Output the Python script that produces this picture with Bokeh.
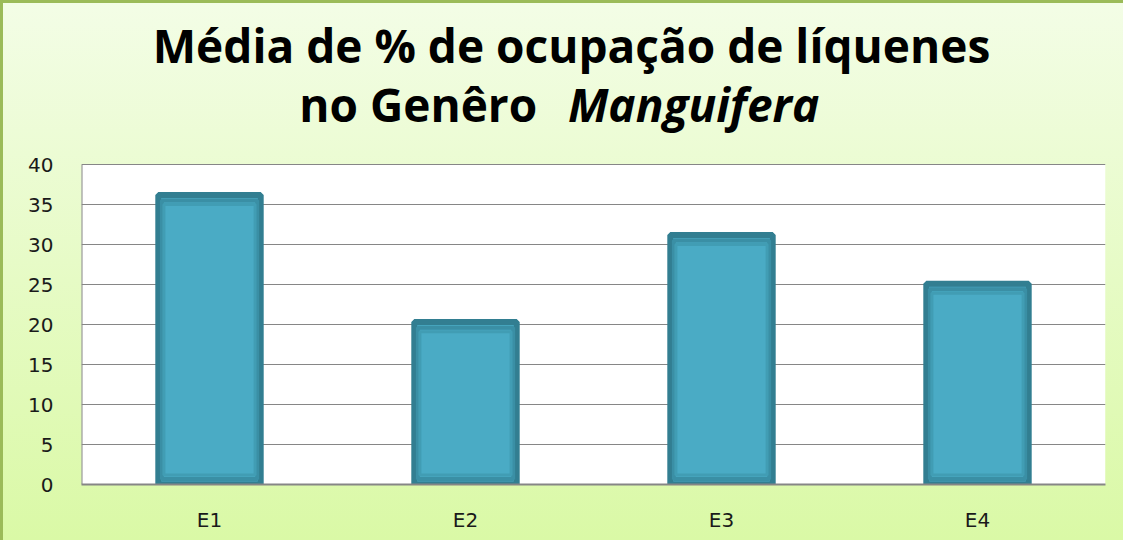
from bokeh.plotting import figure
from bokeh.models import Label, FixedTicker, BoxAnnotation
from bokeh.embed import file_html
from bokeh.resources import INLINE

categories = ["E1", "E2", "E3", "E4"]
values = [36.2, 20.3, 31.2, 25.1]
y_ticks = [0, 5, 10, 15, 20, 25, 30, 35, 40]
title_line1 = "Média de % de ocupação de líquenes"
title_line2a = "no Genêro"
title_line2b = "Manguifera"

# frame extends up to the top of the canvas; the white plot area is 0..40
p = figure(x_range=categories, y_range=(0, 60.125), width=1123, height=540,
           output_backend="svg", toolbar_location=None,
           min_border_left=78, min_border_right=21, min_border_top=0, min_border_bottom=59)

p.background_fill_alpha = 0
p.border_fill_alpha = 0
p.outline_line_color = None
p.styles = {"background": "linear-gradient(#f3fde6, #daf9a6)",
            "border-left": "3px solid #9bbb59",
            "border-top": "3px solid #9bbb59"}

p.add_layout(BoxAnnotation(bottom=y_ticks[0], top=y_ticks[-1], fill_color="white",
                           fill_alpha=1, line_color=None, level="image"))
p.segment(x0=[0], x1=[0], y0=[y_ticks[0]], y1=[y_ticks[-1]], line_color="#868686",
          line_width=2, level="underlay")

# bars with bevel-like rings
p.vbar(x=categories, top=values, width=0.40, fill_color="#4aabc5",
       line_color="#327e91", line_width=6)
inner1 = [v - 0.7 for v in values]
p.vbar(x=categories, top=inner1, bottom=0.7, width=0.372, fill_color=None,
       line_color="#3a8fa5", line_width=4)
inner2 = [v - 1.2 for v in values]
p.vbar(x=categories, top=inner2, bottom=1.2, width=0.356, fill_color=None,
       line_color="#419db4", line_width=3)

p.ygrid.ticker = FixedTicker(ticks=y_ticks)
p.ygrid.grid_line_color = "#868686"
p.ygrid.grid_line_width = 1
p.xgrid.grid_line_color = None

p.yaxis.ticker = FixedTicker(ticks=y_ticks)
p.yaxis.axis_line_color = None
p.yaxis.major_tick_line_color = None
p.yaxis.major_tick_out = 0
p.yaxis.minor_tick_line_color = None
p.yaxis.minor_tick_out = 0
p.yaxis.major_label_standoff = 28
p.yaxis.major_label_text_font = "DejaVu Sans"
p.yaxis.major_label_text_font_size = "20px"
p.yaxis.major_label_text_color = "#1a1a1a"

p.xaxis.axis_line_color = "#868686"
p.xaxis.axis_line_width = 2
p.xaxis.major_tick_line_color = None
p.xaxis.major_tick_out = 0
p.xaxis.major_label_standoff = 23
p.xaxis.major_label_text_font = "DejaVu Sans"
p.xaxis.major_label_text_font_size = "20px"
p.xaxis.major_label_text_color = "#1a1a1a"

font = "Open Sans"
p.add_layout(Label(x=1.914, y=54.9, text=title_line1,
                   text_font=font, text_font_size="46px", text_font_style="bold",
                   text_align="center", text_baseline="alphabetic", text_color="black"))
p.add_layout(Label(x=1.78, y=47.6, text=title_line2a,
                   text_font=font, text_font_size="46px", text_font_style="bold",
                   text_align="right", text_baseline="alphabetic", text_color="black"))
p.add_layout(Label(x=1.90, y=47.6, text=title_line2b,
                   text_font=font, text_font_size="46px", text_font_style="bold italic",
                   text_align="left", text_baseline="alphabetic", text_color="black"))

open("out.html", "w").write(file_html(p, INLINE))
